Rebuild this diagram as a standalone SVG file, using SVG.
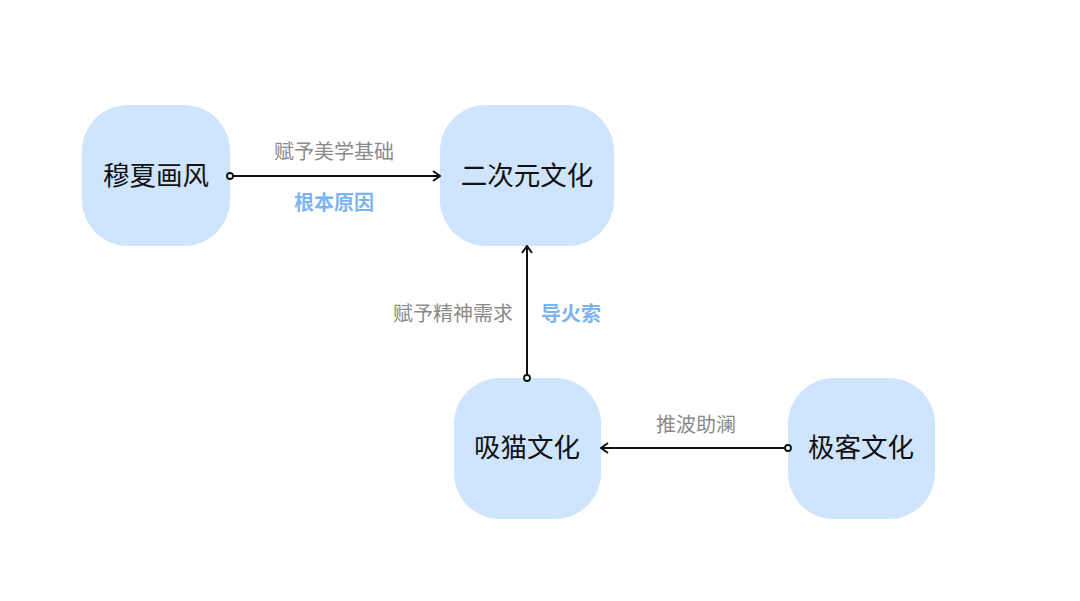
<svg xmlns="http://www.w3.org/2000/svg" width="1080" height="601" viewBox="0 0 1080 601">
<defs>
<style>
.node{fill:#cfe4fd;}
.nt{font-family:"Noto Sans CJK SC","Noto Sans",sans-serif;font-size:26.5px;fill:#111;text-anchor:middle;dominant-baseline:central;}
.lg{font-family:"Noto Sans CJK SC","Noto Sans",sans-serif;font-size:20px;fill:#8a8a8a;dominant-baseline:central;}
.lb{font-family:"Noto Sans CJK SC","Noto Sans",sans-serif;font-size:20px;font-weight:bold;fill:#7db4ef;dominant-baseline:central;}
.edge{stroke:#111;stroke-width:2;fill:none;}
.dot{fill:#fff;stroke:#111;stroke-width:1.8;}
</style>
<marker id="arr" viewBox="0 0 12 12" refX="11" refY="6" markerWidth="12" markerHeight="12" markerUnits="userSpaceOnUse" orient="auto">
<path d="M4,1 L11,6 L4,11" fill="none" stroke="#111" stroke-width="2"/>
</marker>
</defs>
<rect width="1080" height="601" fill="#fff"/>
<g id="n1"><rect class="node" x="82" y="105" width="148" height="141" rx="46"/><text class="nt" x="156" y="173">穆夏画风</text></g>
<g id="n2"><rect class="node" x="440" y="105" width="174" height="141" rx="46"/><text class="nt" x="527" y="173">二次元文化</text></g>
<g id="n3"><rect class="node" x="454" y="378" width="147" height="141" rx="46"/><text class="nt" x="527" y="445">吸猫文化</text></g>
<g id="n4"><rect class="node" x="788" y="378" width="147" height="141" rx="46"/><text class="nt" x="861" y="445">极客文化</text></g>
<g id="edges">
<line class="edge" x1="233" y1="176" x2="440" y2="176" marker-end="url(#arr)"/>
<circle class="dot" cx="230" cy="176" r="3"/>
<line class="edge" x1="527" y1="375" x2="527" y2="246" marker-end="url(#arr)"/>
<circle class="dot" cx="527" cy="378" r="3"/>
<line class="edge" x1="785" y1="448" x2="601" y2="448" marker-end="url(#arr)"/>
<circle class="dot" cx="788" cy="448" r="3"/>
</g>
<g id="labels">
<text class="lg" x="334" y="150" text-anchor="middle">赋予美学基础</text>
<text class="lb" x="334" y="201" text-anchor="middle">根本原因</text>
<text class="lg" x="513" y="312" text-anchor="end">赋予精神需求</text>
<text class="lb" x="541" y="312" text-anchor="start">导火索</text>
<text class="lg" x="696" y="423" text-anchor="middle">推波助澜</text>
</g>
</svg>
